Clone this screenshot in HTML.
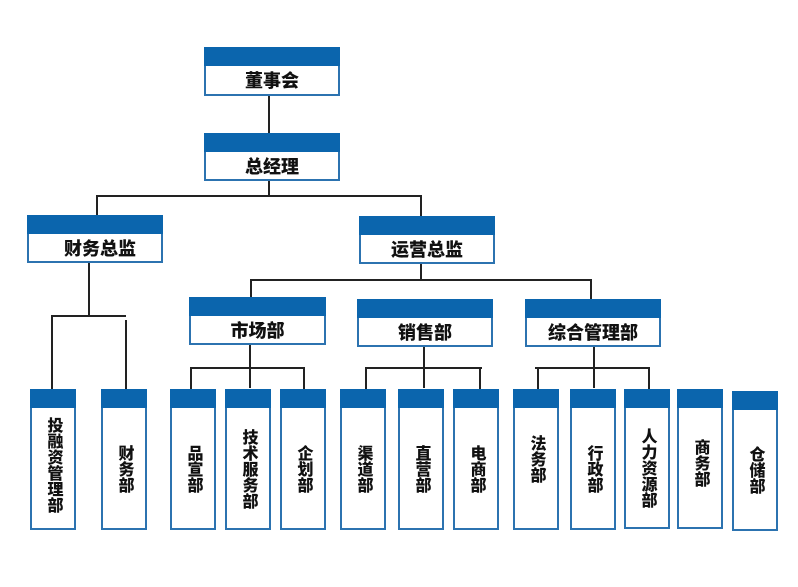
<!DOCTYPE html>
<html><head><meta charset="utf-8"><style>
body{margin:0;width:798px;height:587px;background:#fff;position:relative;overflow:hidden;font-family:"Liberation Sans","Noto Sans CJK SC",sans-serif;}
.b{position:absolute;box-sizing:border-box;border:2px solid #2c73b0;background:#fff;}
.b::before{content:"";position:absolute;left:-2px;right:-2px;top:-2px;height:19px;background:#0b65ad;}
.h .t{position:absolute;left:0;right:0;top:17px;bottom:0;display:flex;align-items:center;justify-content:center;font-weight:900;font-size:18px;color:#111;}
.v .t{position:absolute;left:0;right:0;top:18px;bottom:0;display:flex;align-items:center;justify-content:center;font-weight:900;font-size:16px;line-height:17px;color:#111;writing-mode:vertical-rl;}
.l{position:absolute;background:#222;}
</style></head><body>
<div class="l" style="left:268px;top:96px;width:2px;height:37px"></div>
<div class="l" style="left:268px;top:180px;width:2px;height:16px"></div>
<div class="l" style="left:96px;top:195px;width:326px;height:2px"></div>
<div class="l" style="left:96px;top:195px;width:2px;height:20px"></div>
<div class="l" style="left:420px;top:195px;width:2px;height:21px"></div>
<div class="l" style="left:88px;top:263px;width:2px;height:54px"></div>
<div class="l" style="left:51px;top:315px;width:75px;height:2px"></div>
<div class="l" style="left:51px;top:315px;width:2px;height:74px"></div>
<div class="l" style="left:125px;top:320px;width:2px;height:69px"></div>
<div class="l" style="left:420px;top:263px;width:2px;height:17px"></div>
<div class="l" style="left:250px;top:279px;width:342px;height:2px"></div>
<div class="l" style="left:250px;top:279px;width:2px;height:18px"></div>
<div class="l" style="left:590px;top:279px;width:2px;height:20px"></div>
<div class="l" style="left:249px;top:345px;width:2px;height:43px"></div>
<div class="l" style="left:190px;top:367px;width:115px;height:2px"></div>
<div class="l" style="left:190px;top:367px;width:2px;height:22px"></div>
<div class="l" style="left:303px;top:367px;width:2px;height:22px"></div>
<div class="l" style="left:423px;top:347px;width:2px;height:41px"></div>
<div class="l" style="left:365px;top:367px;width:117px;height:2px"></div>
<div class="l" style="left:365px;top:367px;width:2px;height:22px"></div>
<div class="l" style="left:479px;top:367px;width:2px;height:22px"></div>
<div class="l" style="left:593px;top:347px;width:2px;height:41px"></div>
<div class="l" style="left:535px;top:367px;width:115px;height:2px"></div>
<div class="l" style="left:537px;top:367px;width:2px;height:22px"></div>
<div class="l" style="left:648px;top:367px;width:2px;height:22px"></div>
<div class="b h" style="left:204px;top:47px;width:136px;height:49px"><div class="t">董事会</div></div>
<div class="b h" style="left:204px;top:133px;width:136px;height:48px"><div class="t">总经理</div></div>
<div class="b h" style="left:27px;top:215px;width:136px;height:48px"><div class="t">&nbsp;&nbsp;财务总监</div></div>
<div class="b h" style="left:359px;top:216px;width:136px;height:48px"><div class="t">运营总监</div></div>
<div class="b h" style="left:189px;top:297px;width:137px;height:48px"><div class="t">市场部</div></div>
<div class="b h" style="left:357px;top:299px;width:136px;height:48px"><div class="t">销售部</div></div>
<div class="b h" style="left:525px;top:299px;width:136px;height:48px"><div class="t">综合管理部</div></div>
<div class="b v" style="left:30px;top:389px;width:46px;height:141px"><div class="t" style="justify-content:flex-start;padding-top:8px">投融资管理部</div></div>
<div class="b v" style="left:101px;top:389px;width:46px;height:141px"><div class="t">财务部</div></div>
<div class="b v" style="left:170px;top:389px;width:46px;height:141px"><div class="t">品宣部</div></div>
<div class="b v" style="left:225px;top:389px;width:46px;height:141px"><div class="t">技术服务部</div></div>
<div class="b v" style="left:280px;top:389px;width:46px;height:141px"><div class="t">企划部</div></div>
<div class="b v" style="left:340px;top:389px;width:46px;height:141px"><div class="t">渠道部</div></div>
<div class="b v" style="left:398px;top:389px;width:46px;height:141px"><div class="t">直营部</div></div>
<div class="b v" style="left:453px;top:389px;width:46px;height:141px"><div class="t">电商部</div></div>
<div class="b v" style="left:513px;top:389px;width:46px;height:141px"><div class="t" style="padding-bottom:20px">法务部</div></div>
<div class="b v" style="left:570px;top:389px;width:46px;height:141px"><div class="t">行政部</div></div>
<div class="b v" style="left:624px;top:389px;width:46px;height:140px"><div class="t">人力资源部</div></div>
<div class="b v" style="left:677px;top:389px;width:46px;height:140px"><div class="t" style="padding-bottom:10px">商务部</div></div>
<div class="b v" style="left:732px;top:391px;width:46px;height:140px"><div class="t">仓储部</div></div>
</body></html>
